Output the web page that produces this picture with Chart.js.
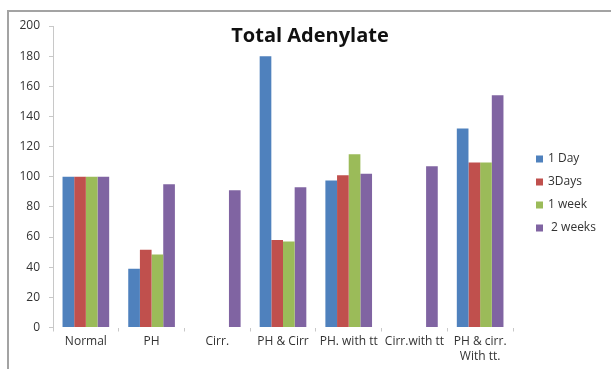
<!DOCTYPE html>
<html>
<head>
<meta charset="utf-8">
<script src="https://cdn.jsdelivr.net/npm/chart.js@4/dist/chart.umd.min.js"></script>
<style>
  html, body { margin: 0; padding: 0; background: #fff; overflow: hidden; }
  #wrap { position: relative; width: 611px; height: 369px; overflow: hidden; }
  #frame { position: absolute; left: 7px; top: 10px; width: 700px; height: 400px;
           border-top: 2px solid #a3a3a3; border-left: 2px solid #a3a3a3; pointer-events: none; }
  canvas { position: absolute; left: 0; top: 0; }
</style>
</head>
<body>
<div id="wrap">
  <canvas id="c" width="611" height="369"></canvas>
  <div id="frame"></div>
</div>
<script>
// Groups along the x axis
const categories = ["Normal", "PH", "Cirr.", "PH & Cirr", "PH. with tt", "Cirr.with tt", ["PH & cirr.", "With tt."]];

// Total adenylate per time point (null = not measured)
const day1   = [100, 39,   null, 180, 97.5, null, 132];
const days3  = [100, 51.5, null, 58,  101,  null, 109.5];
const week1  = [100, 48.5, null, 57,  115,  null, 109.5];
const weeks2 = [100, 95,   91,   93,  102,  107,  154];

const seriesNames = ["1 Day", "3Days", "1 week", " 2 weeks"];
const seriesColors = ["#4F81BD", "#C0504D", "#9BBB59", "#8064A2"];

const yTicks = { min: 0, max: 200, step: 20 };

const FONT = "'Open Sans', 'Liberation Sans', sans-serif";
const TEXT = "#333";

// Title drawn over the plot area
const titlePlugin = {
  id: "overTitle",
  afterDraw(chart) {
    const ctx = chart.ctx;
    ctx.save();
    ctx.font = "bold 20px " + FONT;
    ctx.fillStyle = "#111";
    ctx.textAlign = "center";
    ctx.textBaseline = "middle";
    ctx.fillText("Total Adenylate", 310, 36);
    ctx.restore();
  }
};

// Legend on the right, one row per series
const sideLegend = {
  id: "sideLegend",
  afterDraw(chart) {
    const ctx = chart.ctx;
    ctx.save();
    ctx.font = "12px " + FONT;
    ctx.textBaseline = "middle";
    ctx.textAlign = "left";
    chart.data.datasets.forEach((ds, i) => {
      const y = 159 + i * 23;
      ctx.fillStyle = ds.backgroundColor;
      ctx.fillRect(536, y - 3.5, 7, 7);
      ctx.fillStyle = TEXT;
      ctx.fillText(ds.label, 548, y);
    });
    ctx.restore();
  }
};

const datasets = [day1, days3, week1, weeks2].map((vals, i) => ({
  label: seriesNames[i],
  data: vals,
  backgroundColor: seriesColors[i],
  borderWidth: 0,
  categoryPercentage: 0.71,
  barPercentage: 1.0
}));

new Chart(document.getElementById("c"), {
  type: "bar",
  data: { labels: categories, datasets },
  options: {
    responsive: false,
    animation: false,
    devicePixelRatio: 1,
    layout: { padding: { top: 26, right: 98, bottom: 0, left: 0 } },
    plugins: { legend: { display: false }, title: { display: false }, tooltip: { enabled: false } },
    scales: {
      x: {
        grid: { display: true, drawOnChartArea: false, drawTicks: true, tickLength: 4, color: "#c8c8c8", offset: true },
        border: { display: false },
        ticks: { color: TEXT, font: { family: FONT, size: 12 }, padding: 3, maxRotation: 0, autoSkip: false },
        afterFit(scale) { scale.height = 41.5; }
      },
      y: {
        min: yTicks.min,
        max: yTicks.max,
        grid: { display: true, drawOnChartArea: false, drawTicks: true, tickLength: 4, color: "#c8c8c8" },
        border: { display: true, color: "#c8c8c8" },
        ticks: { stepSize: yTicks.step, color: TEXT, font: { family: FONT, size: 12 }, padding: 9 },
        afterFit(scale) { scale.width = 53; }
      }
    }
  },
  plugins: [titlePlugin, sideLegend]
});
</script>
</body>
</html>
